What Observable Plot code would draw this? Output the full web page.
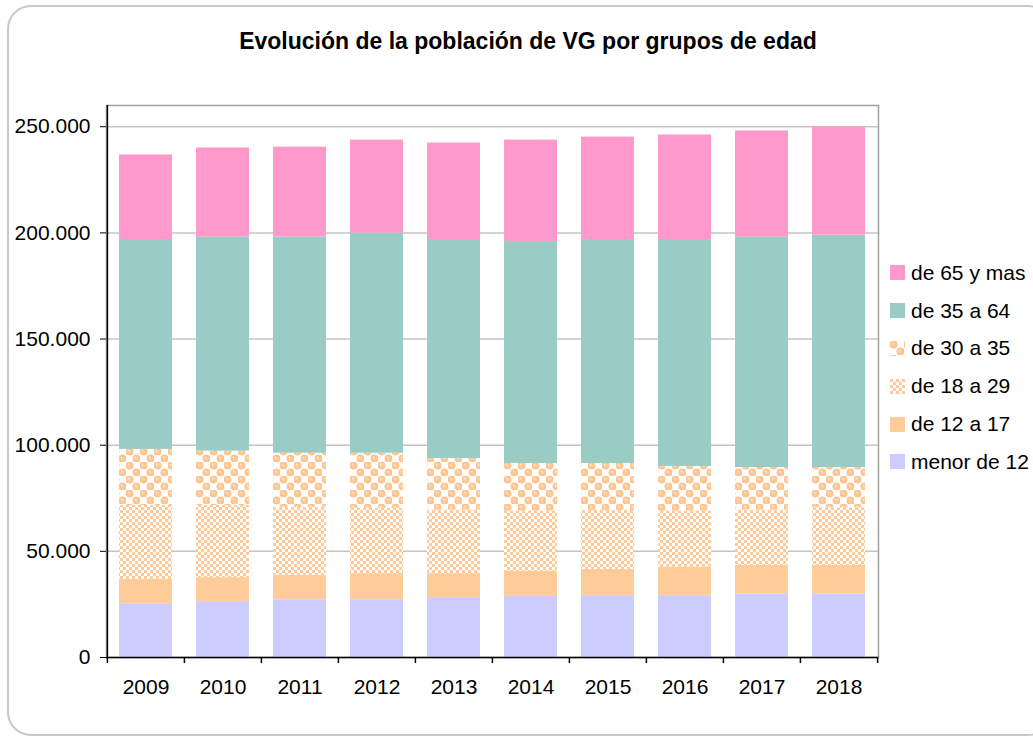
<!DOCTYPE html>
<html>
<head>
<meta charset="utf-8">
<script src="https://cdn.jsdelivr.net/npm/d3@7"></script>
<script src="https://cdn.jsdelivr.net/npm/@observablehq/plot@0.6"></script>
<style>
  html, body { margin: 0; padding: 0; background: #fff; }
  body { width: 1033px; height: 736px; position: relative; overflow: hidden; font-family: "Liberation Sans", Arial, sans-serif; }
  #frame { position: absolute; left: 7px; top: 5px; width: 1045px; height: 731px; border: 2px solid #c8c8c8; border-radius: 24px; box-sizing: border-box; }
  #chart { position: absolute; left: 0; top: 0; }
  #title { position: absolute; left: 0; width: 1056px; top: 28px; text-align: center; font-weight: bold; font-size: 23px; color: #000; }
  #legend { position: absolute; left: 890px; top: 254px; }
  .item { height: 37.8px; display: flex; align-items: center; font-size: 21px; color: #000; white-space: nowrap; }
  .item svg { margin-right: 6px; }
</style>
</head>
<body>
<svg width="0" height="0" style="position:absolute">
  <defs>
    <pattern id="pDots" patternUnits="userSpaceOnUse" width="14" height="14">
      <rect width="14" height="14" fill="#fff"/>
      <circle cx="3.5" cy="3.5" r="4" fill="#FFC48E"/>
      <circle cx="10.5" cy="10.5" r="4" fill="#FFC48E"/>
      <circle cx="3.5" cy="3.5" r="2" fill="#FFCE9F"/>
      <circle cx="10.5" cy="10.5" r="2" fill="#FFCE9F"/>
      <circle cx="2.6" cy="2.5" r="0.9" fill="#FFE6CF"/>
      <circle cx="9.6" cy="9.5" r="0.9" fill="#FFE6CF"/>
    </pattern>
    <pattern id="pChecker" patternUnits="userSpaceOnUse" width="6" height="6">
      <rect width="6" height="6" fill="#fff"/>
      <rect x="0" y="0" width="3" height="3" fill="#FFCA98"/>
      <rect x="3" y="3" width="3" height="3" fill="#FFCA98"/>
    </pattern>
  </defs>
</svg>
<div id="frame"></div>
<div id="chart"></div>
<div id="title">Evolución de la población de VG por grupos de edad</div>
<div id="legend"></div>
<script>
// ---- data ----
const years = ["2009", "2010", "2011", "2012", "2013", "2014", "2015", "2016", "2017", "2018"];
const series = ["menor de 12", "de 12 a 17", "de 18 a 29", "de 30 a 35", "de 35 a 64", "de 65 y mas"];
const menor12  = [25300, 26300, 27200, 27200, 28200, 28800, 29100, 29100, 30000, 30000];
const de12a17  = [11500, 11300, 11500, 12300, 11300, 11800, 12400, 13500, 13400, 13400];
const de18a29  = [34800, 34000, 31900, 30800, 30000, 28400, 27800, 26400, 26100, 27100];
const de30a35  = [26400, 25600, 25600, 25900, 24200, 22400, 22100, 21000, 20000, 19000];
const de35a64  = [98900, 100800, 101800, 103700, 103200, 104500, 105500, 106900, 108500, 109400];
const de65ymas = [39800, 42000, 42400, 43800, 45400, 47800, 48200, 49200, 50000, 51000];
const yTicks = [0, 50000, 100000, 150000, 200000, 250000];

const seriesValues = [menor12, de12a17, de18a29, de30a35, de35a64, de65ymas];
const fills = ["#CCCCFF", "#FFCC99", "url(#pChecker)", "url(#pDots)", "#99CCC4", "#FF99CC"];

const rows = [];
series.forEach((s, i) => years.forEach((y, j) => rows.push({year: y, group: s, value: seriesValues[i][j]})));

const W = 1033, H = 736, mL = 106, mR = 155, mT = 105, mB = 79;
const step = (W - mL - mR) / years.length;
const fmt = d3.formatLocale({decimal: ",", thousands: ".", grouping: [3], currency: ["", "€"]}).format(",");

const chart = Plot.plot({
  width: W, height: H,
  marginLeft: mL, marginRight: mR, marginTop: mT, marginBottom: mB,
  style: {fontFamily: "'Liberation Sans', Arial, sans-serif", fontSize: "21px", color: "#000", background: "transparent"},
  x: {domain: years, paddingInner: 0.31, paddingOuter: 0.155, label: null},
  y: {domain: [0, 260000], label: null},
  color: {domain: series, range: fills},
  marks: [
    Plot.frame({stroke: "#a0a0a0", strokeWidth: 1.5}),
    Plot.gridY(yTicks.filter(d => d > 0), {stroke: "#c4c4c4", strokeOpacity: 1, strokeWidth: 1.5}),
    Plot.barY(rows, {x: "year", y: "value", fill: "group", order: series}),
    Plot.ruleY([0], {stroke: "#000", strokeWidth: 1.5}),
    Plot.ruleX([years[0]], {x: d => d, dx: -step / 2, y1: 0, y2: 260000, stroke: "#000", strokeWidth: 1.5}),
    Plot.ruleX(years, {x: d => d, dx: -step / 2, y1: 0, y2: -2850, stroke: "#000", strokeWidth: 1.5}),
    Plot.ruleX([years[years.length - 1]], {x: d => d, dx: step / 2, y1: 0, y2: -2850, stroke: "#000", strokeWidth: 1.5}),
    Plot.axisY({ticks: yTicks, tickFormat: fmt, tickSize: 6, tickPadding: 10, label: null, fontSize: 21}),
    Plot.axisX({tickSize: 0, tickPadding: 22, label: null, fontSize: 21})
  ]
});
document.getElementById("chart").appendChild(chart);

// legend (top to bottom in reverse stacking order)
const legend = document.getElementById("legend");
series.slice().reverse().forEach(s => {
  const i = series.indexOf(s);
  const div = document.createElement("div");
  div.className = "item";
  div.innerHTML = `<svg width="15" height="15"><rect width="15" height="15" fill="${fills[i]}"/></svg><span>${s}</span>`;
  legend.appendChild(div);
});
</script>
</body>
</html>
